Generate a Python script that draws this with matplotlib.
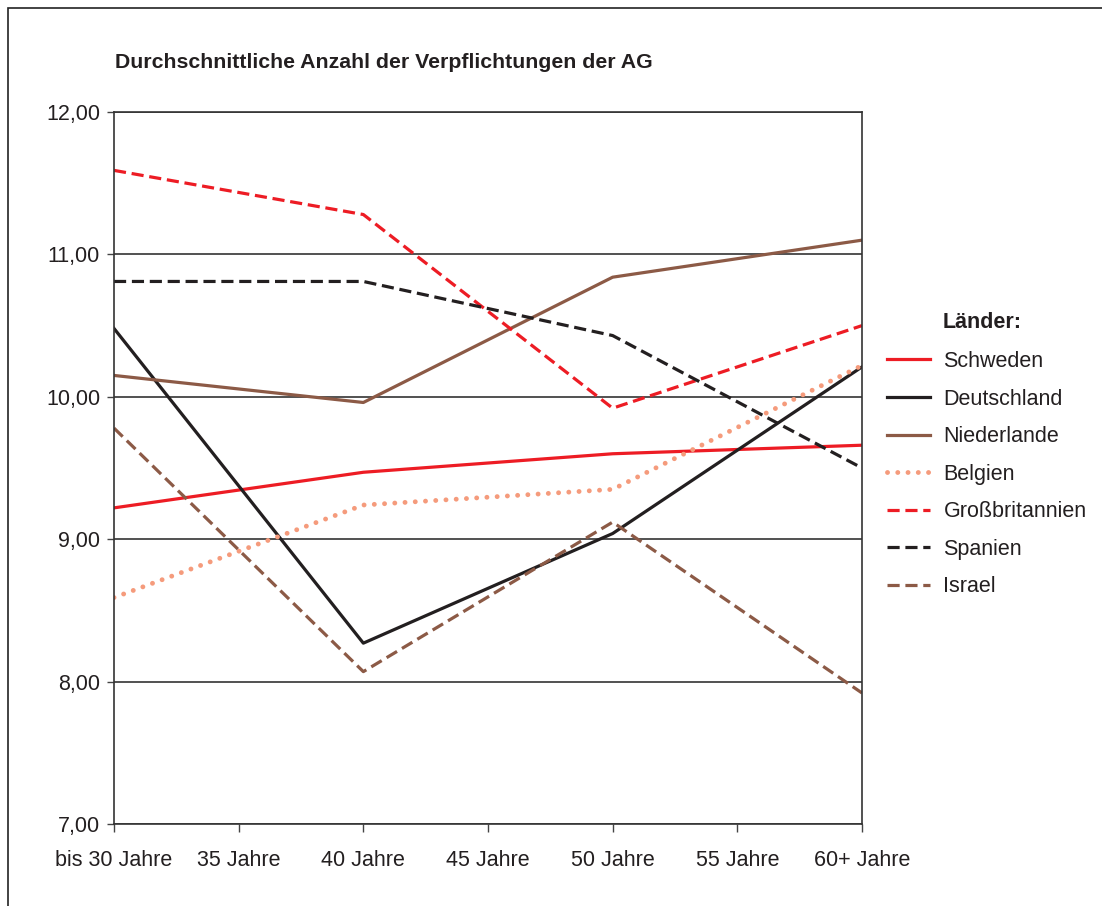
import matplotlib
matplotlib.use('Agg')
import matplotlib.pyplot as plt
import matplotlib.patches as patches

plt.rcParams['font.family'] = ['Liberation Sans', 'DejaVu Sans']

# age groups on the x axis; data only exists at every second one
x_labels = ['bis 30 Jahre', '35 Jahre', '40 Jahre', '45 Jahre', '50 Jahre', '55 Jahre', '60+ Jahre']
x_pos = [0, 2, 4, 6]

schweden = [9.22, 9.47, 9.60, 9.66]
deutschland = [10.48, 8.27, 9.04, 10.21]
niederlande = [10.15, 9.96, 10.84, 11.10]
belgien = [8.59, 9.24, 9.35, 10.22]
grossbritannien = [11.59, 11.28, 9.92, 10.50]
spanien = [10.81, 10.81, 10.43, 9.50]
israel = [9.78, 8.07, 9.12, 7.92]

y_ticks = [7, 8, 9, 10, 11, 12]

red = '#ed1c24'
black = '#231f20'
brown = '#8c5a46'
salmon = '#f59b7c'
txt = '#231f20'
fs = 15.5

W, H = 1102, 906
fig = plt.figure(figsize=(W / 100, H / 100), dpi=100)

# outer frame, open to the right and bottom
fig.patches.append(patches.Rectangle((8 / W, -0.05), 1.1, 1 - 8 / H + 0.05,
                                     transform=fig.transFigure, fill=False,
                                     edgecolor='#222222', lw=1.2))

ax = fig.add_axes([114 / W, 1 - 824 / H, (862 - 114) / W, (824 - 112) / H])

lw = 2.3
dash = (0, (3.8, 1.8))
ax.plot(x_pos, schweden, color=red, lw=lw, label='Schweden')
ax.plot(x_pos, deutschland, color=black, lw=lw, label='Deutschland')
ax.plot(x_pos, niederlande, color=brown, lw=lw, label='Niederlande')
ax.plot(x_pos, belgien, color=salmon, lw=3.5, linestyle=(0, (0.01, 2.1)),
        dash_capstyle='round', label='Belgien')
ax.plot(x_pos, grossbritannien, color=red, lw=lw, linestyle=dash, label='Großbritannien')
ax.plot(x_pos, spanien, color=black, lw=lw, linestyle=dash, label='Spanien')
ax.plot(x_pos, israel, color=brown, lw=lw, linestyle=dash, label='Israel')

ax.set_xlim(0, 6)
ax.set_ylim(7, 12)
ax.set_xticks(range(7))
ax.set_xticklabels(x_labels)
ax.set_yticks(y_ticks)
ax.set_yticklabels([f'{v:.2f}'.replace('.', ',') for v in y_ticks])

ax.yaxis.grid(True, color='#333333', lw=1.2)
ax.set_axisbelow(True)
for s in ax.spines.values():
    s.set_color('#333333')
    s.set_linewidth(1.2)
ax.tick_params(axis='x', length=6, width=1.0, color='#444444', pad=13, labelsize=fs, labelcolor=txt)
ax.tick_params(axis='y', length=5, width=1.0, color='#444444', pad=5, labelsize=fs, labelcolor=txt)

fig.text(115 / W, 1 - 62 / H, 'Durchschnittliche Anzahl der Verpflichtungen der AG',
         fontsize=15.3, fontweight='bold', color=txt, va='center', ha='left')

fig.text(943 / W, 1 - 322 / H, 'Länder:', fontsize=fs, fontweight='bold',
         color=txt, va='center', ha='left')
leg = ax.legend(loc='upper left', bbox_to_anchor=(887 / W, 1 - 351 / H),
                bbox_transform=fig.transFigure, frameon=False, fontsize=fs,
                handlelength=2.0, handletextpad=0.62, labelspacing=0.77,
                borderaxespad=0, borderpad=0)
for t in leg.get_texts():
    t.set_color(txt)

fig.savefig('out.png', dpi=100)
